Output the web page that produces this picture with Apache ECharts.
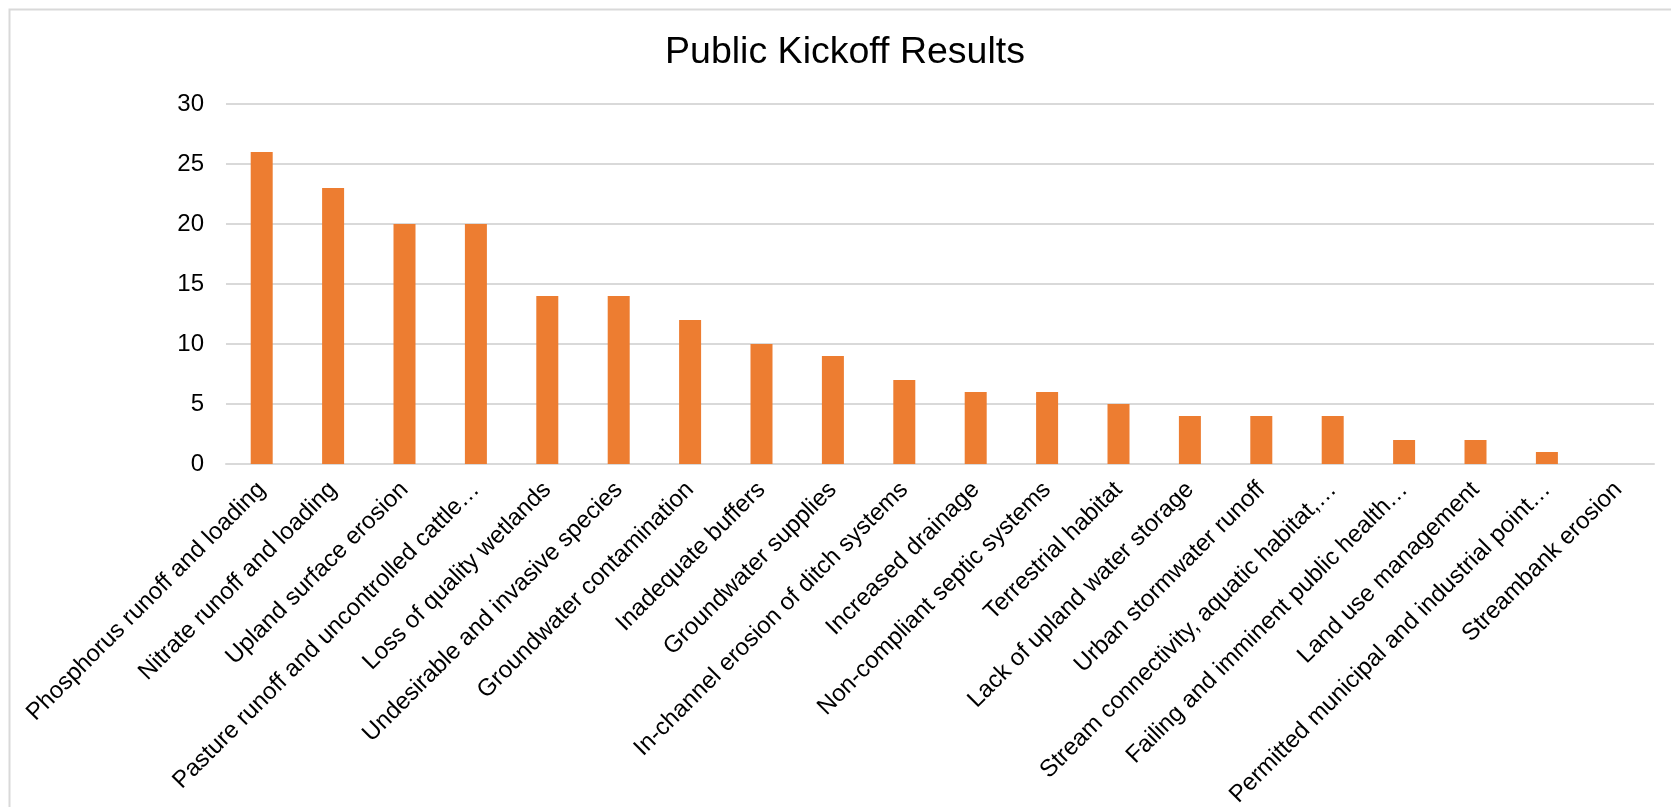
<!DOCTYPE html>
<html>
<head>
<meta charset="utf-8">
<title>Public Kickoff Results</title>
<script src="https://cdn.jsdelivr.net/npm/echarts@6/dist/echarts.min.js"></script>
<style>
html,body{margin:0;padding:0;background:#fff;}
#chart{width:1671px;height:807px;}
</style>
</head>
<body>
<div id="chart"></div>
<script>
// 类别（标签照原图截断）
var categories = [
	"Phosphorus runoff and loading",
	"Nitrate runoff and loading",
	"Upland surface erosion",
	"Pasture runoff and uncontrolled cattle…",
	"Loss of quality wetlands",
	"Undesirable and invasive species",
	"Groundwater contamination",
	"Inadequate buffers",
	"Groundwater supplies",
	"In-channel erosion of ditch systems",
	"Increased drainage",
	"Non-compliant septic systems",
	"Terrestrial habitat",
	"Lack of upland water storage",
	"Urban stormwater runoff",
	"Stream connectivity, aquatic habitat,…",
	"Failing and imminent public health…",
	"Land use management",
	"Permitted municipal and industrial point…",
	"Streambank erosion"
];
// 票数
var votes = [26, 23, 20, 20, 14, 14, 12, 10, 9, 7, 6, 6, 5, 4, 4, 4, 2, 2, 1, 0];
// y轴刻度
var yTicks = [0, 5, 10, 15, 20, 25, 30];

var dom = document.getElementById("chart");
var myChart = echarts.init(dom);
var font = "'Liberation Sans', Arial, sans-serif";

var option = {
	backgroundColor: '#fff',
	animation: false,
	title: {
		text: 'Public Kickoff Results',
		left: 840,
		textAlign: 'center',
		top: 29,
		textStyle: {
			fontFamily: font,
			fontSize: 37.5,
			fontWeight: 'normal',
			color: '#000'
		}
	},
	graphic: [{
		type: 'rect',
		left: 7, top: 7,
		shape: {width: 1700, height: 830},
		style: {fill: 'none', stroke: '#d9d9d9', lineWidth: 2},
		silent: true
	}],
	grid: {
		left: 226,
		right: 17,
		top: 104,
		bottom: 343,
		containLabel: false,
		outerBoundsMode: 'none'
	},
	xAxis: {
		type: 'category',
		data: categories,
		axisTick: {show: false},
		axisLine: {
			lineStyle: {color: '#d9d9d9', width: 2}
		},
		axisLabel: {
			rotate: 45,
			interval: 0,
			margin: 22,
			fontFamily: font,
			fontSize: 24,
			color: '#000'
		}
	},
	yAxis: {
		type: 'value',
		min: yTicks[0],
		max: yTicks[yTicks.length - 1],
		interval: yTicks[1] - yTicks[0],
		axisLine: {show: false},
		axisTick: {show: false},
		splitLine: {
			lineStyle: {color: '#d9d9d9', width: 2}
		},
		axisLabel: {
			margin: 22,
			fontFamily: font,
			fontSize: 24,
			color: '#000'
		}
	},
	series: [{
		name: 'Votes',
		type: 'bar',
		data: votes,
		barWidth: 22,
		itemStyle: {color: '#ed7d31'}
	}]
};
myChart.setOption(option);
</script>
</body>
</html>
